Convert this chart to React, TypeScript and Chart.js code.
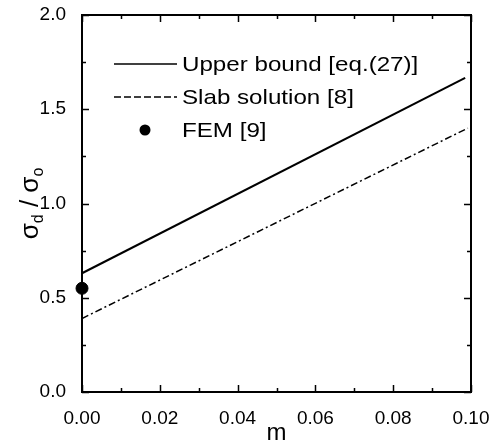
import React, { useEffect, useRef } from "react";
import { Chart, registerables } from "chart.js";

Chart.register(...registerables);

const upperM = [0, 0.0985];
const upperVal = [0.63, 1.666];
const slabM = [0, 0.0992];
const slabVal = [0.39, 1.4];
const femM = [0];
const femVal = [0.55];

const xTicks = [0, 0.02, 0.04, 0.06, 0.08, 0.1];
const yTicks = [0, 0.5, 1.0, 1.5, 2.0];
const legendLabels = ["Upper bound [eq.(27)]", "Slab solution [8]", "FEM [9]"];

const FONT = "'Liberation Sans', Arial, Helvetica, sans-serif";

const frame = {
  id: "frame",
  afterDraw(chart: any) {
    const { ctx, chartArea: a, scales } = chart;
    const xs = scales.x;
    const ys = scales.y;
    ctx.save();
    ctx.strokeStyle = "#000";
    ctx.lineWidth = 2;
    ctx.strokeRect(a.left, a.top, a.right - a.left, a.bottom - a.top);
    ctx.lineWidth = 1.5;
    for (let i = 0; i <= 10; i++) {
      const v = i * 0.01;
      const px = Math.round(xs.getPixelForValue(v)) + 0.5;
      const len = i % 2 === 0 ? 7 : 4;
      ctx.beginPath();
      ctx.moveTo(px, a.bottom);
      ctx.lineTo(px, a.bottom - len);
      ctx.moveTo(px, a.top);
      ctx.lineTo(px, a.top + len);
      ctx.stroke();
    }
    for (let i = 0; i <= 8; i++) {
      const v = i * 0.25;
      const py = Math.round(ys.getPixelForValue(v)) + 0.5;
      const len = i % 2 === 0 ? 7 : 4;
      ctx.beginPath();
      ctx.moveTo(a.left, py);
      ctx.lineTo(a.left + len, py);
      ctx.moveTo(a.right, py);
      ctx.lineTo(a.right - len, py);
      ctx.stroke();
    }
    ctx.fillStyle = "#000";
    ctx.textBaseline = "alphabetic";
    ctx.font = `24px ${FONT}`;
    ctx.textAlign = "center";
    ctx.fillText("m", (a.left + a.right) / 2, 440);
    ctx.translate(38, (a.top + a.bottom) / 2);
    ctx.rotate(-Math.PI / 2);
    const parts: [string, number, number][] = [
      ["σ", 26, 0],
      ["d", 16, 5],
      [" / ", 26, 0],
      ["σ", 26, 0],
      ["o", 16, 5],
    ];
    let total = 0;
    for (const [t, s] of parts) {
      ctx.font = `${s}px ${FONT}`;
      total += ctx.measureText(t).width;
    }
    let x = -total / 2;
    ctx.textAlign = "left";
    for (const [t, s, dy] of parts) {
      ctx.font = `${s}px ${FONT}`;
      ctx.fillText(t, x, dy);
      x += ctx.measureText(t).width;
    }
    ctx.restore();

    ctx.save();
    ctx.fillStyle = "#000";
    ctx.strokeStyle = "#000";
    const rows = [64, 97, 130];
    const lx0 = 114;
    const lx1 = 177;
    ctx.lineWidth = 1.6;
    ctx.beginPath();
    ctx.moveTo(lx0, rows[0]);
    ctx.lineTo(lx1, rows[0]);
    ctx.stroke();
    ctx.lineWidth = 1.3;
    ctx.setLineDash([7, 3]);
    ctx.beginPath();
    ctx.moveTo(lx0, rows[1]);
    ctx.lineTo(lx1, rows[1]);
    ctx.stroke();
    ctx.setLineDash([]);
    ctx.beginPath();
    ctx.arc(145, rows[2], 5.5, 0, Math.PI * 2);
    ctx.fill();
    ctx.font = `21px ${FONT}`;
    ctx.textBaseline = "middle";
    ctx.textAlign = "left";
    for (let i = 0; i < legendLabels.length; i++) {
      ctx.save();
      ctx.translate(182, rows[i] + 1);
      ctx.scale(1.15, 1);
      ctx.fillText(legendLabels[i], 0, 0);
      ctx.restore();
    }
    ctx.restore();
  },
};

export default function App() {
  const ref = useRef<HTMLCanvasElement>(null);
  useEffect(() => {
    document.body.style.margin = "0";
    const canvas = ref.current!;
    const chart = new Chart(canvas, {
      type: "scatter",
      data: {
        datasets: [
          {
            label: legendLabels[0],
            data: upperM.map((m, i) => ({ x: m, y: upperVal[i] })),
            showLine: true,
            borderColor: "#000",
            borderWidth: 2,
            pointRadius: 0,
          },
          {
            label: legendLabels[1],
            data: slabM.map((m, i) => ({ x: m, y: slabVal[i] })),
            showLine: true,
            borderColor: "#000",
            borderWidth: 1.5,
            borderDash: [7, 3, 2, 3],
            pointRadius: 0,
          },
          {
            label: legendLabels[2],
            data: femM.map((m, i) => ({ x: m, y: femVal[i] })),
            showLine: false,
            backgroundColor: "#000",
            borderColor: "#000",
            pointRadius: 6,
            clip: false,
          } as any,
        ],
      },
      options: {
        animation: false,
        responsive: false,
        devicePixelRatio: 1,
        layout: { padding: { top: 15, right: 18, left: 0, bottom: 0 } },
        plugins: { legend: { display: false }, tooltip: { enabled: false } },
        scales: {
          x: {
            type: "linear",
            min: 0,
            max: 0.1,
            grid: { display: false },
            border: { display: false },
            afterBuildTicks: (s: any) => {
              s.ticks = xTicks.map((v) => ({ value: v }));
            },
            afterFit: (s: any) => {
              s.height = 53;
              s.paddingLeft = 0;
              s.paddingRight = 0;
            },
            ticks: {
              padding: 7,
              color: "#000",
              maxRotation: 0,
              font: { family: FONT, size: 19 },
              callback: (v: any) => Number(v).toFixed(2),
            },
          },
          y: {
            type: "linear",
            min: 0,
            max: 2,
            grid: { display: false },
            border: { display: false },
            afterBuildTicks: (s: any) => {
              s.ticks = yTicks.map((v) => ({ value: v }));
            },
            afterFit: (s: any) => {
              s.width = 82;
              s.paddingTop = 0;
              s.paddingBottom = 0;
            },
            ticks: {
              padding: 8,
              color: "#000",
              font: { family: FONT, size: 19 },
              callback: (v: any) => Number(v).toFixed(1),
            },
          },
        },
      },
      plugins: [frame],
    });
    return () => chart.destroy();
  }, []);
  return <canvas ref={ref} width={489} height={445} style={{ display: "block" }} />;
}
